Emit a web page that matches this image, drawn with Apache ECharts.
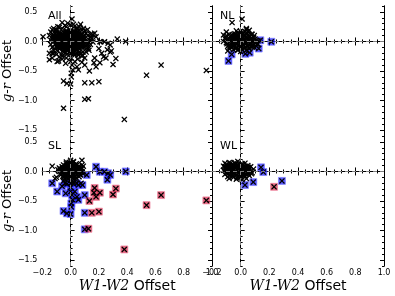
<!DOCTYPE html>
<html><head><meta charset="utf-8">
<script src="https://cdn.jsdelivr.net/npm/echarts@6/dist/echarts.min.js"></script>
<style>html,body{margin:0;padding:0;background:#fff}#c{width:395px;height:296px}</style>
</head><body><div id="c"></div>
<script>
// ---- data (W1-W2 offset, g-r offset) ----
const nlCloud = [[-0.11,0.05],[-0.1,-0.02],[-0.1,0.1],[-0.09,-0.08],[-0.09,0.03],[-0.08,0.12],[-0.08,-0.12],[-0.07,0.07],[-0.07,-0.04],[-0.07,0.0],[-0.06,0.11],[-0.06,-0.09],[-0.06,0.04],[-0.05,-0.14],[-0.05,0.08],[-0.05,-0.02],[-0.04,0.13],[-0.04,-0.07],[-0.04,0.02],[-0.03,0.1],[-0.03,-0.11],[-0.03,0.05],[-0.03,-0.03],[-0.02,0.15],[-0.02,-0.15],[-0.02,0.01],[-0.01,0.08],[-0.01,-0.06],[-0.01,0.12],[-0.01,-0.1],[0.0,0.03],[0.0,-0.02],[0.0,0.17],[0.0,-0.17],[0.01,0.06],[0.01,-0.08],[0.01,0.11],[0.01,-0.13],[0.02,0.0],[0.02,0.14],[0.02,-0.05],[0.03,0.09],[0.03,-0.1],[0.03,0.03],[0.04,-0.15],[0.04,0.12],[0.04,-0.03],[0.05,0.06],[0.05,-0.08],[0.05,0.16],[0.06,0.01],[0.06,-0.12],[0.06,0.1],[0.07,-0.05],[0.07,0.05],[0.08,-0.1],[0.08,0.12],[0.08,0.0],[0.09,-0.06],[0.09,0.07],[0.1,-0.02],[0.1,0.04],[0.11,-0.08],[0.12,0.01],[0.12,-0.04],[-0.12,0.0],[0.06,0.19],[0.04,0.2],
  [-0.085,0.06],[-0.075,-0.09],[-0.065,0.02],[-0.055,0.09],[-0.055,-0.06],[-0.045,0.0],[-0.045,0.11],[-0.035,-0.12],[-0.035,0.07],[-0.025,-0.05],[-0.025,0.03],[-0.015,0.1],[-0.015,-0.13],[-0.005,-0.03],[-0.005,0.06],[0.005,0.14],[0.005,-0.1],[0.015,0.02],[0.015,-0.06],[0.025,0.11],[0.025,-0.12],[0.035,-0.01],[0.035,0.06],[0.045,-0.07],[0.045,0.14],[0.055,0.03],[0.055,-0.11],[0.065,0.08],[0.065,-0.03],[0.075,0.12],[0.075,-0.08],[0.085,0.03],[0.095,-0.1],[0.095,0.1],[0.105,0.01],[0.115,-0.05],[-0.095,-0.04],[-0.105,0.07],[0.03,0.17],[-0.03,0.18]];
const nlOut = [[-0.06,0.32],[0.01,0.38],[0.04,0.22],[-0.1,0.16],[-0.12,0.11],[-0.09,-0.16]];
const nlBlue = [[0.137,0.02],[0.214,-0.005],[0.126,-0.12],[0.063,-0.19],[0.033,-0.21],[-0.063,-0.22],[-0.085,-0.33]];

const slCloud = [[-0.07,0.02],[-0.07,-0.06],[-0.06,0.08],[-0.06,-0.03],[-0.06,0.04],[-0.05,-0.1],[-0.05,0.0],[-0.05,0.11],[-0.04,-0.05],[-0.04,0.06],[-0.04,-0.13],[-0.03,0.02],[-0.03,0.13],[-0.03,-0.08],[-0.02,0.07],[-0.02,-0.03],[-0.02,0.1],[-0.02,-0.12],[-0.01,0.0],[-0.01,0.15],[-0.01,-0.07],[-0.01,0.05],[0.0,-0.15],[0.0,0.09],[0.0,-0.02],[0.0,0.03],[0.01,0.12],[0.01,-0.1],[0.01,0.01],[0.01,-0.05],[0.02,0.07],[0.02,-0.13],[0.02,0.16],[0.03,-0.02],[0.03,0.04],[0.03,-0.08],[0.03,0.1],[0.04,0.0],[0.04,-0.11],[0.04,0.13],[0.05,-0.05],[0.05,0.06],[0.05,0.02],[0.06,-0.09],[0.06,0.09],[0.06,-0.02],[0.07,0.04],[0.07,-0.06],[0.08,0.0],[0.08,0.11],[-0.08,0.0],[-0.08,0.06],[0.09,-0.04],[0.0,0.19],[-0.05,-0.16],[0.02,-0.18],
  [-0.065,-0.01],[-0.055,0.06],[-0.055,-0.08],[-0.045,0.03],[-0.045,-0.03],[-0.035,0.09],[-0.035,-0.1],[-0.025,0.0],[-0.025,0.05],[-0.015,-0.05],[-0.015,0.12],[-0.005,0.07],[-0.005,-0.11],[0.005,-0.01],[0.005,0.05],[0.015,0.09],[0.015,-0.08],[0.025,0.02],[0.025,-0.04],[0.035,0.07],[0.035,-0.13],[0.045,0.11],[0.045,-0.06],[0.055,-0.01],[0.055,0.08],[0.065,-0.05],[0.065,0.05],[0.075,0.0],[-0.075,0.04],[0.01,0.15],[-0.03,0.16]];
const slOut = [[-0.13,0.09],[-0.11,-0.12],[-0.1,-0.1],[0.02,0.17],[0.08,0.19],[0.09,0.09],[0.08,0.05],[0.074,-0.2],[-0.09,0.03]];
const slBlue = [[-0.13,-0.2],[-0.095,-0.34],[-0.06,-0.25],[-0.04,-0.2],[-0.025,-0.21],[0.0,-0.2],[0.02,-0.21],[0.045,-0.2],[0.055,-0.23],[-0.035,-0.37],[0.0,-0.27],[0.0,-0.34],[0.01,-0.4],[0.015,-0.48],[0.005,-0.54],[0.005,-0.6],[0.03,-0.34],[0.045,-0.43],[0.055,-0.48],[0.084,-0.23],[0.1,-0.4],[-0.05,-0.67],[-0.026,-0.71],[0.0,-0.72],[0.1,-0.7],[0.1,-0.98],[0.114,-0.06],[0.18,0.08],[0.207,-0.005],[0.24,-0.005],[0.265,-0.03],[0.28,-0.06],[0.26,-0.14],[0.39,0.0]];
const slRed = [[0.133,-0.5],[0.15,-0.7],[0.17,-0.28],[0.165,-0.36],[0.18,-0.43],[0.207,-0.36],[0.2,-0.68],[0.3,-0.39],[0.32,-0.29],[0.126,-0.97],[0.537,-0.57],[0.64,-0.4],[0.96,-0.49],[0.38,-1.32]];

const wlCloud = [[-0.12,0.02],[-0.11,-0.05],[-0.11,0.08],[-0.1,0.0],[-0.1,0.12],[-0.09,-0.09],[-0.09,0.05],[-0.08,-0.02],[-0.08,0.1],[-0.08,-0.12],[-0.07,0.03],[-0.07,0.14],[-0.06,-0.06],[-0.06,0.07],[-0.06,-0.01],[-0.05,0.11],[-0.05,-0.1],[-0.05,0.02],[-0.04,0.06],[-0.04,-0.04],[-0.04,0.15],[-0.03,-0.13],[-0.03,0.09],[-0.03,0.0],[-0.02,0.04],[-0.02,-0.08],[-0.02,0.12],[-0.01,-0.02],[-0.01,0.07],[-0.01,-0.11],[0.0,0.01],[0.0,0.1],[0.0,-0.06],[0.01,0.05],[0.01,-0.14],[0.01,0.13],[0.02,-0.03],[0.02,0.08],[0.03,-0.09],[0.03,0.02],[0.03,0.14],[0.04,-0.05],[0.04,0.06],[0.05,-0.01],[0.05,0.1],[0.06,-0.07],[0.06,0.03],[0.07,0.08],[0.08,-0.02],[0.09,0.04],[-0.12,0.09],[-0.02,0.17],[0.04,-0.12],
  [-0.105,0.04],[-0.095,-0.03],[-0.095,0.09],[-0.085,0.01],[-0.075,-0.07],[-0.075,0.07],[-0.065,0.11],[-0.065,-0.03],[-0.055,0.04],[-0.055,-0.08],[-0.045,0.09],[-0.045,-0.01],[-0.035,0.12],[-0.035,-0.06],[-0.025,0.02],[-0.025,-0.11],[-0.015,0.1],[-0.015,0.04],[-0.005,-0.04],[-0.005,0.08],[0.005,-0.09],[0.005,0.03],[0.015,0.11],[0.015,-0.01],[0.025,0.05],[0.025,-0.07],[0.035,0.09],[0.045,0.02],[0.055,-0.04],[0.055,0.07],[0.065,0.0],[0.075,-0.04],[-0.11,0.14],[-0.08,0.15]];
const wlBlue = [[0.142,0.07],[0.158,-0.01],[0.03,-0.23],[0.088,-0.18],[0.288,-0.16]];
const wlRed = [[0.233,-0.26]];

const allExtra = [[-0.195,0.08],[-0.05,-1.13],[0.33,0.04],[0.17,0.14],[0.153,0.12],[-0.14,0.16],[-0.107,0.19],[-0.15,-0.31],[-0.13,-0.28],[-0.03,0.25],[0.0,0.28],[0.03,0.26],[0.05,0.22],[-0.06,0.22],[0.1,0.18],[0.12,0.1],[0.14,-0.05],[0.13,-0.15],[-0.13,-0.1],[-0.14,0.02],[-0.12,-0.2],[0.1,-0.28],[0.08,-0.35],[0.2,-0.12],[0.22,-0.2],[0.25,-0.28],[0.28,-0.18],[-0.02,0.31],[0.07,0.29],[-0.09,0.25],
  [-0.12,0.22],[-0.1,0.2],[-0.08,0.24],[-0.04,0.27],[0.02,0.29],[0.06,0.25],[0.09,0.22],[0.12,0.2],[0.14,0.12],[0.15,0.05],[0.13,-0.02],[0.12,-0.1],[0.11,-0.18],[-0.14,-0.05],[-0.15,0.1],[-0.13,0.2],[-0.12,-0.15],[-0.1,-0.22],[-0.08,-0.26],[-0.06,-0.3],[-0.03,-0.28],[0.05,-0.3],[0.08,-0.25],[-0.15,-0.2],[-0.11,0.14],[0.11,0.14]];

const panelNames = ['All','NL','SL','WL'];
const yTicks = [-1.5,-1.0,-0.5,0.0,0.5];

// ---- build panels ----
const nlAll = nlCloud.concat(nlOut, nlBlue);
const slAll = slCloud.concat(slOut, slBlue, slRed);
const wlAll = wlCloud.concat(wlBlue, wlRed);
const panels = [
  {black: nlAll.concat(slAll, wlAll, allExtra), blue: [], red: []},
  {black: nlAll, blue: nlBlue, red: []},
  {black: slAll, blue: slBlue, red: slRed},
  {black: wlAll, blue: wlBlue, red: wlRed}
];

const L = 40, T = 6, W = 172, H = 130;
const FONT = 'DejaVu Sans';
const fmt = v => (v < 0 ? '\u2212' : '') + Math.abs(v).toFixed(1);
const XSYM = 'path://M0,1.5L1.5,0L5,3.5L8.5,0L10,1.5L6.5,5L10,8.5L8.5,10L5,6.5L1.5,10L0,8.5L3.5,5Z';

const grids = [], xAxes = [], yAxes = [], series = [], graphics = [];
for (let g = 0; g < 4; g++) {
  const col = g % 2, row = Math.floor(g / 2);
  grids.push({left: L + col * W, top: T + row * H, width: W, height: H});
  const isBottom = row === 1, isLeft = col === 0;
  const axLine = {show: true, lineStyle: {color: '#000', width: 1}};
  ['bottom','top'].forEach(pos => {
    const lab = pos === 'bottom' && isBottom;
    xAxes.push({
      type: 'value', gridIndex: g, position: pos, min: -0.2, max: 1.0, interval: 0.2,
      axisLine: axLine, splitLine: {show: false},
      axisTick: {show: true, inside: true, length: 4, lineStyle: {color: '#000'}},
      minorTick: {show: true, splitNumber: 4, length: 2, lineStyle: {color: '#000'}},
      axisLabel: {show: lab, formatter: fmt, fontSize: 8, fontFamily: FONT, color: '#000', margin: 3},
      name: lab ? '{i|W1-W2} Offset' : '', nameLocation: 'middle', nameGap: 13,
      nameTextStyle: {fontSize: 14, fontFamily: FONT, color: '#000',
        rich: {i: {fontSize: 14, fontFamily: 'DejaVu Serif', fontStyle: 'italic', color: '#000'}}}
    });
  });
  ['left','right'].forEach(pos => {
    yAxes.push({
      type: 'value', gridIndex: g, position: pos, min: -1.6, max: 0.6, interval: 0.1,
      axisLine: axLine, splitLine: {show: false},
      axisTick: {show: true, inside: true, length: 2, lineStyle: {color: '#000'}},
      axisLabel: {show: false}
    });
    const lab = pos === 'left' && isLeft;
    yAxes.push({
      type: 'value', gridIndex: g, position: pos, min: -1.6, max: 0.6,
      axisLine: axLine, splitLine: {show: false},
      axisTick: {show: true, inside: true, length: 4, customValues: yTicks, lineStyle: {color: '#000'}},
      axisLabel: {show: lab, customValues: yTicks, formatter: fmt, fontSize: 8, fontFamily: FONT, color: '#000', margin: 5},
      name: lab ? '{i|g-r} Offset' : '', nameLocation: 'middle', nameGap: 24, nameRotate: 90,
      nameTextStyle: {fontSize: 13, fontFamily: FONT, color: '#000',
        rich: {i: {fontSize: 13, fontFamily: 'DejaVu Serif', fontStyle: 'italic', color: '#000'}}}
    });
  });
  const xi = g * 2, yi = g * 4;
  series.push({
    type: 'scatter', xAxisIndex: xi, yAxisIndex: yi, data: [], z: 1, silent: true,
    markLine: {silent: true, symbol: ['none','none'], label: {show: false},
      lineStyle: {type: [4,3], color: '#7f7f7f', width: 1},
      data: [{yAxis: 0}, {xAxis: 0}]}
  });
  series.push({
    type: 'scatter', xAxisIndex: xi, yAxisIndex: yi, data: panels[g].blue, z: 2,
    symbol: 'rect', symbolSize: 7,
    itemStyle: {color: 'rgba(0,0,255,0.8)', borderColor: 'rgba(110,110,255,0.7)', borderWidth: 1}
  });
  series.push({
    type: 'scatter', xAxisIndex: xi, yAxisIndex: yi, data: panels[g].red, z: 2,
    symbol: 'rect', symbolSize: 7,
    itemStyle: {color: 'rgba(215,20,60,0.8)', borderColor: 'rgba(235,110,140,0.7)', borderWidth: 1}
  });
  series.push({
    type: 'scatter', xAxisIndex: xi, yAxisIndex: yi, data: panels[g].black, z: 3,
    symbol: XSYM, symbolSize: 6, itemStyle: {color: '#000', opacity: 1}
  });
  graphics.push({
    type: 'text', left: L + col * W + 8, top: T + row * H + 5,
    style: {text: panelNames[g], fontSize: 11, fontFamily: FONT, fill: '#000'}
  });
}

const chart = echarts.init(document.getElementById('c'), null, {renderer: 'canvas'});
chart.setOption({
  animation: false,
  backgroundColor: '#fff',
  grid: grids, xAxis: xAxes, yAxis: yAxes, series: series, graphic: graphics
});
</script></body></html>
